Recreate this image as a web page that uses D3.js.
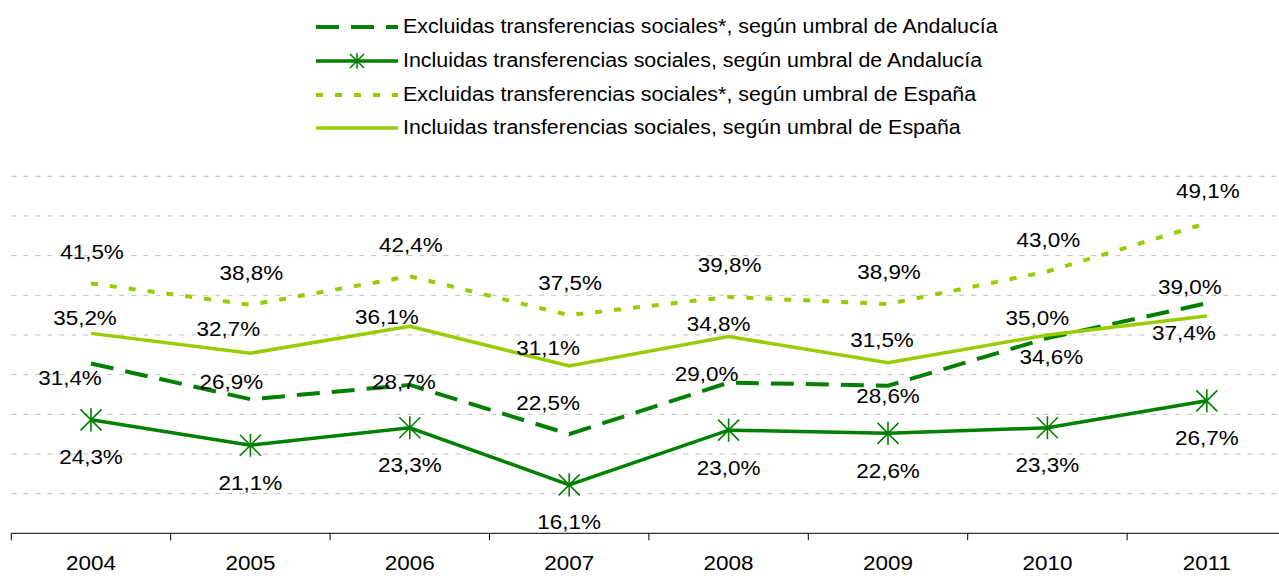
<!DOCTYPE html>
<html>
<head>
<meta charset="utf-8">
<script src="https://cdn.jsdelivr.net/npm/d3@7"></script>
<style>
  body { margin: 0; background: #fff; }
  svg { display: block; font-family: "Liberation Sans", Arial, sans-serif; }
</style>
</head>
<body>
<svg id="chart" width="1279" height="576"></svg>
<script>
const years = ['2004', '2005', '2006', '2007', '2008', '2009', '2010', '2011'];
const exclAndalucia = [31.4, 26.9, 28.7, 22.5, 29.0, 28.6, 34.6, 39.0];
const inclAndalucia = [24.3, 21.1, 23.3, 16.1, 23.0, 22.6, 23.3, 26.7];
const exclEspana = [41.5, 38.8, 42.4, 37.5, 39.8, 38.9, 43.0, 49.1];
const inclEspana = [35.2, 32.7, 36.1, 31.1, 34.8, 31.5, 35.0, 37.4];
const yTicks = [15, 20, 25, 30, 35, 40, 45, 50, 55];

const DARK = '#008000';
const LIGHT = '#99CC00';
const STRETCH = 1.07;

// label nudges (px) for the labels that were moved by hand in the original
const nudgeExclAnd = [[-21, 14], [-19, -18], [-6, -3.5], [-21, -31], [-22, -9], [0, 10], [4, 18], [-17, -17]];
const nudgeInclEsp = [[-6, -15.5], [-22, -25], [-23, -10], [-21, -18], [-10, -13], [-6, -23], [-10, -17.5], [-23, 16.5]];

const series = [
  { name: 'Excluidas transferencias sociales*, según umbral de Andalucía', values: exclAndalucia,
    color: DARK, width: 4, dash: '23,12', nudge: nudgeExclAnd },
  { name: 'Incluidas transferencias sociales, según umbral de Andalucía', values: inclAndalucia,
    color: DARK, width: 3.5, dash: null, marker: true, nudge: inclAndalucia.map(() => [0, 37]) },
  { name: 'Excluidas transferencias sociales*, según umbral de España', values: exclEspana,
    color: LIGHT, width: 4, dash: '7,12', nudge: exclEspana.map(() => [1, -32]) },
  { name: 'Incluidas transferencias sociales, según umbral de España', values: inclEspana,
    color: LIGHT, width: 3.5, dash: null, nudge: nudgeInclEsp },
];

const svg = d3.select('#chart');

const x = d3.scaleBand().domain(years).range([11.3, 1286.5]);
const y = d3.scaleLinear().domain([10, 55]).range([533.3, 176.3]);
const cx = d => x(d) + x.bandwidth() / 2;

function text(g, tx, ty, str, size, anchor) {
  return g.append('text')
    .attr('transform', `translate(${tx},${ty}) scale(${STRETCH},1)`)
    .attr('text-anchor', anchor || 'middle')
    .attr('dy', '0.35em')
    .attr('font-size', size)
    .attr('fill', '#000')
    .text(str);
}

// gridlines
svg.append('g').selectAll('line')
  .data(yTicks)
  .enter().append('line')
  .attr('x1', 11.3).attr('x2', 1279)
  .attr('y1', d => y(d)).attr('y2', d => y(d))
  .attr('stroke', '#BFBFBF')
  .attr('stroke-width', 1)
  .attr('stroke-dasharray', '5,7');

// x axis
const xAxis = svg.append('g')
  .attr('transform', `translate(0,${y(10)})`)
  .call(d3.axisBottom(x).tickSize(0).tickFormat(''));
xAxis.select('.domain').attr('d', 'M11.3,0H1279').attr('stroke', '#000');
xAxis.selectAll('.tick').remove();
xAxis.selectAll('line.bound')
  .data(years)
  .enter().append('line')
  .attr('class', 'bound')
  .attr('x1', d => x(d)).attr('x2', d => x(d))
  .attr('y1', 0).attr('y2', 7)
  .attr('stroke', '#000');
years.forEach(yr => text(svg, cx(yr), 563, yr, 21));

// lines
const line = d3.line().x((d, i) => cx(years[i])).y(d => y(d));
series.forEach(s => {
  svg.append('path')
    .datum(s.values)
    .attr('d', line)
    .attr('fill', 'none')
    .attr('stroke', s.color)
    .attr('stroke-width', s.width)
    .attr('stroke-dasharray', s.dash);
});

// asterisk markers
function asterisk(g, px, py, r, color) {
  const m = g.append('g').attr('transform', `translate(${px},${py})`)
    .attr('stroke', color).attr('stroke-width', 1.6).attr('fill', 'none');
  m.append('path').attr('d', `M${-r},${-r}L${r},${r}M${-r},${r}L${r},${-r}M0,${-r * 1.1}V${r * 1.1}`);
}
series.filter(s => s.marker).forEach(s => {
  s.values.forEach((v, i) => asterisk(svg, cx(years[i]), y(v), 10.5, s.color));
});

// data labels
const fmt = v => d3.format('.1f')(v).replace('.', ',') + '%';
series.forEach(s => {
  s.values.forEach((v, i) => {
    text(svg, cx(years[i]) + s.nudge[i][0], y(v) + s.nudge[i][1], fmt(v), 21);
  });
});

// legend
const legend = svg.append('g');
const rowY = [26, 60, 94, 127];
series.forEach((s, i) => {
  const ly = rowY[i];
  legend.append('line')
    .attr('x1', 316).attr('x2', 398)
    .attr('y1', ly + 1).attr('y2', ly + 1)
    .attr('stroke', s.color)
    .attr('stroke-width', s.width)
    .attr('stroke-dasharray', s.dash);
  if (s.marker) asterisk(legend, 357, ly + 1, 7, s.color);
  text(legend, 403, ly, s.name, 20, 'start');
});
</script>
</body>
</html>
